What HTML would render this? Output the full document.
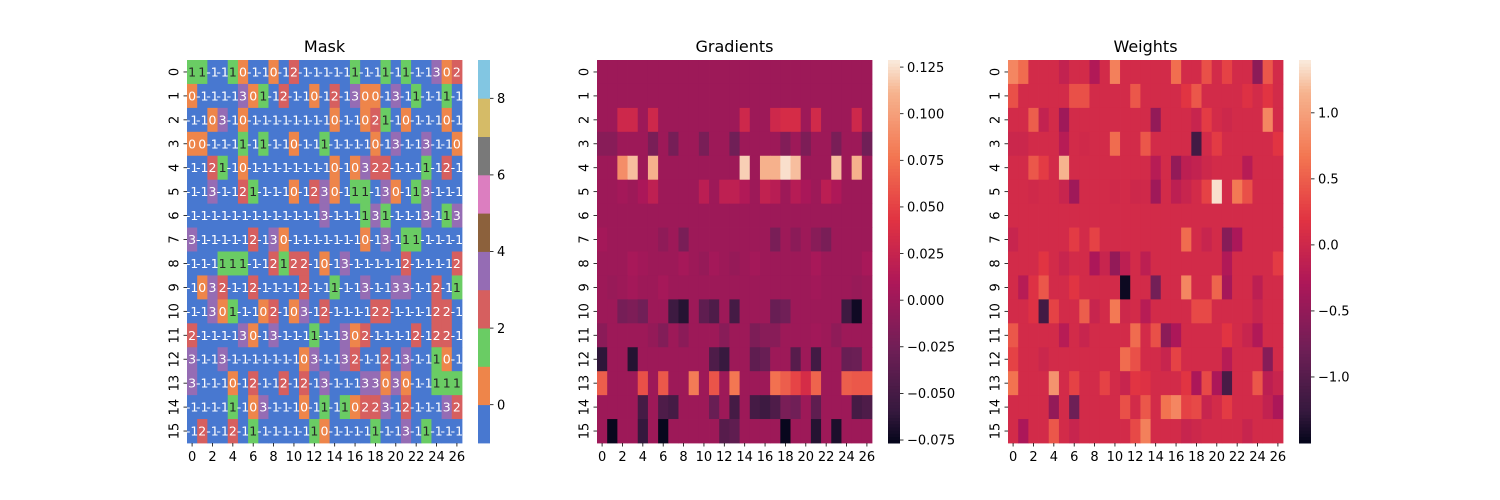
<!DOCTYPE html>
<html><head><meta charset="utf-8"><style>
html,body{margin:0;padding:0;background:#fff;}
svg{display:block;font-family:"DejaVu Sans","Liberation Sans",sans-serif;}
</style></head><body>
<svg id="chart" width="1500" height="500" viewBox="0 0 1500 500" xmlns="http://www.w3.org/2000/svg"></svg>
<script>
const maskValues = [
[1,1,-1,-1,1,0,-1,-1,0,-1,2,-1,-1,-1,-1,-1,1,-1,-1,1,-1,1,-1,-1,3,0,2],
[0,-1,-1,-1,-1,3,0,1,-1,2,-1,-1,0,-1,2,-1,3,0,0,-1,3,-1,1,-1,-1,1,-1],
[-1,-1,0,3,-1,0,-1,-1,-1,-1,-1,-1,-1,-1,0,-1,-1,0,2,1,-1,0,-1,-1,-1,0,-1],
[0,0,-1,-1,-1,1,-1,1,-1,-1,0,-1,-1,1,-1,-1,-1,-1,0,-1,3,-1,-1,3,-1,-1,0],
[-1,-1,2,1,-1,0,-1,-1,-1,-1,-1,-1,-1,-1,0,-1,0,3,2,2,-1,-1,-1,1,-1,2,-1],
[-1,-1,3,-1,-1,2,1,-1,-1,-1,0,-1,2,3,0,-1,1,1,-1,3,0,-1,1,3,-1,-1,-1],
[-1,-1,-1,-1,-1,-1,-1,-1,-1,-1,-1,-1,-1,3,-1,-1,-1,1,3,1,-1,-1,-1,3,-1,1,3],
[3,-1,-1,-1,-1,-1,2,-1,3,0,-1,-1,-1,-1,-1,-1,-1,0,-1,3,-1,1,1,-1,-1,-1,-1],
[-1,-1,-1,1,1,1,-1,-1,2,1,2,2,-1,0,-1,3,-1,-1,-1,-1,-1,2,-1,-1,-1,-1,2],
[-1,0,3,2,-1,-1,2,-1,-1,-1,-1,2,-1,-1,1,-1,-1,3,-1,-1,3,3,-1,-1,2,-1,1],
[-1,-1,3,0,1,-1,-1,0,2,-1,0,3,-1,2,-1,-1,-1,-1,2,2,-1,-1,-1,-1,2,2,-1],
[2,-1,-1,-1,-1,3,0,-1,3,-1,-1,-1,1,-1,-1,3,0,2,-1,-1,-1,-1,2,-1,2,2,-1],
[3,-1,-1,3,-1,-1,-1,-1,-1,-1,-1,0,3,-1,-1,3,2,-1,-1,2,-1,3,-1,-1,1,0,-1],
[3,-1,-1,-1,0,-1,2,-1,-1,2,-1,2,-1,3,-1,-1,-1,3,3,0,3,0,-1,-1,1,1,1],
[-1,-1,-1,-1,1,-1,0,3,-1,-1,-1,0,-1,1,-1,1,0,2,2,3,-1,2,-1,-1,-1,3,2],
[-1,2,-1,-1,2,-1,1,-1,-1,-1,-1,-1,1,0,-1,-1,-1,-1,1,-1,-1,3,-1,1,-1,-1,-1]
];
const gradValues = [
[0,0,0,0,0,0,0,0,0,0,0,0,0,0,0,0,0,0,0,0,0,0,0,0,0,0,0],
[0,0,0,0,0,0,0,0,0,0,0,0,0,0,0,0,0,0,0,0,0,0,0,0,0,0,0],
[0,0,.03,.03,0,.03,0,0,0,0,0,0,0,0,.03,0,0,.03,.035,.035,0,.032,0,0,0,.03,0],
[-.012,-.012,0,0,0,-.02,0,-.022,0,0,-.02,0,0,-.025,0,0,0,0,-.015,0,-.018,0,0,-.02,0,0,-.025],
[0,0,.09,.115,0,.11,0,0,0,0,0,0,0,0,.12,0,.11,.11,.125,.115,0,0,0,.115,0,.11,0],
[0,0,.004,0,.008,.02,0,0,0,0,.018,0,.02,.02,.012,0,.022,.016,0,.015,.007,0,.018,.01,0,0,0],
[0,0,0,0,0,0,0,0,0,0,0,0,0,0,0,0,0,0,0,0,0,0,0,0,0,0,0],
[.004,0,0,0,0,0,-.008,0,-.02,0,0,0,0,0,0,0,0,-.02,0,-.01,0,-.012,-.02,0,0,0,0],
[0,0,0,.006,.003,0,0,0,.005,0,-.004,.004,0,-.004,0,.004,0,0,0,0,0,.006,0,0,0,0,.006],
[0,-.003,0,.004,0,0,.005,0,0,0,0,0,0,0,0,0,0,0,0,0,0,.003,0,0,0,-.003,0],
[0,0,-.022,-.018,-.025,0,0,-.055,-.065,0,-.035,-.045,0,-.05,0,0,0,-.03,-.025,0,0,0,0,0,-.055,-.072,0],
[-.01,0,0,0,0,-.005,-.015,0,-.01,0,0,0,-.012,0,0,-.018,-.012,-.012,0,0,0,.003,0,-.008,0,0,0],
[-.062,0,0,-.065,0,0,0,0,0,0,0,-.045,-.058,0,0,-.035,-.03,0,0,-.04,0,-.052,0,0,-.03,-.028,0],
[.065,0,0,0,.058,0,.062,0,0,.08,0,.06,0,.078,0,0,0,.075,.065,.052,.035,.068,0,0,.065,.062,.062],
[0,0,0,0,-.05,0,-.045,-.05,0,0,0,-.03,0,-.05,0,-.05,-.055,-.045,-.02,-.025,0,-.035,0,0,0,-.05,-.045],
[0,-.075,0,0,-.06,0,-.075,0,0,0,0,0,-.04,-.035,0,0,0,0,-.075,0,0,-.065,0,-.068,0,0,0]
];
const weightValues = [
[.8,.6,.05,.05,.05,-.1,.05,.05,-.25,.05,.75,.05,.05,.05,.05,.05,.62,.05,.05,.4,.05,.3,.05,.05,-.55,.45,.05],
[.4,.05,.05,.05,.05,.05,.4,.4,.05,.05,.05,.05,.45,.05,.05,.05,.05,.2,.45,.05,.05,.05,.05,.15,.05,.2,.05],
[.05,.05,.5,-.1,.05,-.4,.05,.05,.05,.05,.05,.05,.05,.05,-.5,.05,.05,.05,-.05,.25,.05,0,.05,.05,.05,.8,.05],
[-.02,-.02,.05,.05,.05,-.2,.05,.02,.05,.05,.6,.05,.05,.45,.05,.05,.05,.05,-1.15,.05,.25,.05,.05,.05,.05,.05,.2],
[.05,.05,.45,.25,.05,1.15,.05,.05,.05,.05,.05,.05,.05,.05,-.2,.05,-.5,-.15,-.1,0,.05,.05,.05,-.2,.05,.05,.05],
[.05,.05,.02,.05,.05,-.05,-.4,.05,.05,.05,.02,.05,0,.02,-.4,.05,-.15,-.05,.05,.3,1.35,.05,.7,.4,.05,.05,.05],
[.05,.05,.05,.05,.05,.05,.05,.05,.05,.05,.05,.05,.05,.05,.05,.05,.05,.05,.05,.05,.05,.05,.05,.05,.05,.05,.05],
[-.05,.05,.05,.05,.05,.05,.25,.05,.3,.05,.05,.05,.05,.05,.05,.05,.05,.6,.05,-.05,.05,-.6,-.3,.05,.05,.05,.05],
[.05,.05,.05,.2,.05,-.05,.05,.05,-.3,-.05,-.5,-.15,.05,-.15,.05,.05,.05,.05,.05,.05,.05,-.25,.05,.05,.05,.05,.25],
[.05,-.2,.15,.45,.05,.05,.2,.05,.05,.05,.05,-1.45,.05,.05,-.75,.05,.05,.8,.05,.05,.55,-.35,.05,.05,-.15,.05,.05],
[.05,.05,.15,-1.15,.3,.05,.05,.5,-.05,.05,.7,0,.05,-.2,.05,.05,.05,.05,.35,.35,.05,.05,.05,.05,-.05,.05,.05],
[.45,.05,.05,.05,.05,-.2,.05,-.05,.05,.05,.05,.05,.6,.05,.4,-.55,-.3,.05,.05,.05,.05,.2,.05,-.05,-.25,.05,.05],
[.3,.05,.05,-.02,.05,.05,.05,.05,.05,.05,.05,.6,.4,.05,.05,-.05,.3,.05,.05,.05,.05,-.2,.05,.05,.05,-.6,.05],
[.65,.05,.05,.05,.9,.05,.3,.05,.05,.3,.05,-.05,.2,.15,.05,.05,.05,.2,-.3,.35,-.3,-1.1,.05,.05,.45,-.15,-.05],
[.05,.05,.05,.05,-.5,.05,-.8,.05,.05,.05,.05,.4,.05,.45,.05,.65,.8,.3,.35,-.05,.05,.25,.05,.05,.05,-.1,-.3],
[.05,-.3,.05,.05,.45,.05,-.05,.05,.05,.05,.05,.05,.35,.75,.05,.05,.05,-.05,0,.05,.05,.05,.05,-.05,.05,.05,.05]
];
const xTickLabels = ["0","2","4","6","8","10","12","14","16","18","20","22","24","26"];
const yTickLabels = ["0","1","2","3","4","5","6","7","8","9","10","11","12","13","14","15"];
const maskTicks = [0,2,4,6,8];
const gradTicks = [0.125,0.1,0.075,0.05,0.025,0,-0.025,-0.05,-0.075];
const gradTickLabels = ["0.125","0.100","0.075","0.050","0.025","0.000","\u22120.025","\u22120.050","\u22120.075"];
const weightTicks = [1,0.5,0,-0.5,-1];
const weightTickLabels = ["1.0","0.5","0.0","\u22120.5","\u22121.0"];

const NS="http://www.w3.org/2000/svg";
const svg=document.getElementById('chart');
function mk(tag,attrs,parent){const e=document.createElementNS(NS,tag);for(const k in attrs)e.setAttribute(k,attrs[k]);(parent||svg).appendChild(e);return e;}
const muted=["#4878d0","#ee854a","#6acc64","#d65f5f","#956cb4","#8c613c","#dc7ec0","#797979","#d5bb67","#82c6e2"];
const rocketStops=[[0,[3,5,26]],[0.083,[53,25,62]],[0.25,[112,31,87]],[0.417,[173,23,89]],[0.583,[225,51,66]],[0.75,[243,118,81]],[0.917,[246,180,143]],[1,[250,235,221]]];
function rocket(t){t=Math.max(0,Math.min(1,t));for(let i=1;i<rocketStops.length;i++){if(t<=rocketStops[i][0]){const a=rocketStops[i-1],b=rocketStops[i];const f=(t-a[0])/(b[0]-a[0]);const c=a[1].map((v,j)=>Math.round(v+(b[1][j]-v)*f));return `rgb(${c[0]},${c[1]},${c[2]})`;}}return 'rgb(250,235,221)';}

const TOP=60,BOT=443,W=275,NR=16,NC=27;
const cw=W/NC,ch=(BOT-TOP)/NR;

function drawPanel(opt){
  const g=mk('g',{});
  
  
  const L=opt.left;
  const xs=c=>L+c*cw, ys=r=>TOP+r*ch;
  const vals=opt.values;
  for(let r=0;r<NR;r++)for(let c=0;c<NC;c++){
    const v=vals[r][c];
    const rc=mk('rect',{x:xs(c).toFixed(2),y:ys(r).toFixed(2),width:(cw+0.4).toFixed(2),height:(ch+0.4).toFixed(2),fill:opt.color(v)},g);
    
    
  }
  if(opt.annot){
    for(let r=0;r<NR;r++)for(let c=0;c<NC;c++){
      const v=vals[r][c];
      const t=mk('text',{x:(xs(c)+cw/2).toFixed(2),y:(ys(r)+ch/2+4.5).toFixed(2),'text-anchor':'middle','font-size':'12.5',fill:(v===1?'#262626':'#ffffff')},g);
      t.textContent=String(v);
      
      
    }
  }
  // title
  const ti=mk('text',{x:L+W/2,y:52,'text-anchor':'middle','font-size':'16',fill:'#000'},g);
  ti.textContent=opt.title;
  
  
  // y ticks
  for(let r=0;r<NR;r++){
    const y=ys(r)+ch/2;
    const tk=mk('line',{x1:L-3.5,x2:L,y1:y,y2:y,stroke:'#000','stroke-width':0.8},g);
    
    
    const tl=mk('text',{x:0,y:0,'text-anchor':'middle','font-size':'13',transform:`translate(${L-8.5},${y}) rotate(-90)`,fill:'#000'},g);
    tl.textContent=yTickLabels[r];
    
    
  }
  // x ticks
  for(let i=0;i<xTickLabels.length;i++){
    const c=Number(xTickLabels[i]);
    const x=xs(c)+cw/2;
    const tk=mk('line',{x1:x,x2:x,y1:BOT,y2:BOT+3.5,stroke:'#000','stroke-width':0.8},g);
    
    
    const tl=mk('text',{x:x,y:BOT+18,'text-anchor':'middle','font-size':'13',fill:'#000'},g);
    tl.textContent=xTickLabels[i];
    
    
  }
  // colorbar
  const cb=mk('g',{},g);
  
  
  const CX=opt.cbx,CW=12;
  const cy=v=>BOT-(v-opt.vmin)/(opt.vmax-opt.vmin)*(BOT-TOP);
  if(opt.discrete){
    for(let k=0;k<10;k++){
      const v0=opt.vmin+k,v1=v0+1;
      const s=mk('rect',{x:CX,y:cy(v1),width:CW,height:cy(v0)-cy(v1)+0.4,fill:muted[k]},cb);
      
      
    }
  } else {
    const N=120;
    for(let k=0;k<N;k++){
      const t=k/N;
      const y0=BOT-(k+1)/N*(BOT-TOP);
      const s=mk('rect',{x:CX,y:y0.toFixed(2),width:CW,height:((BOT-TOP)/N+0.5).toFixed(2),fill:rocket(t+0.5/N)},cb);
      
      
    }
  }
  for(let i=0;i<opt.ticks.length;i++){
    const y=cy(opt.ticks[i]);
    const tk=mk('line',{x1:CX+CW,x2:CX+CW+3.5,y1:y,y2:y,stroke:'#000','stroke-width':0.8},cb);
    
    
    const tl=mk('text',{x:CX+CW+7,y:y+4.7,'font-size':'13',fill:'#000'},cb);
    tl.textContent=opt.tickLabels[i];
    
    
  }
}

drawPanel({name:'mask',title:'Mask',left:187,values:maskValues,annot:true,discrete:true,vmin:-1,vmax:9,
  color:v=>muted[Math.max(0,Math.min(9,v+1))],cbx:478,ticks:maskTicks,tickLabels:maskTicks.map(String)});
const gmin=-0.0766,gmax=0.1288;
drawPanel({name:'gradients',title:'Gradients',left:597,values:gradValues,annot:false,vmin:gmin,vmax:gmax,
  color:v=>rocket((v-gmin)/(gmax-gmin)),cbx:888,ticks:gradTicks,tickLabels:gradTickLabels});
const wmin=-1.5,wmax=1.4;
drawPanel({name:'weights',title:'Weights',left:1008,values:weightValues,annot:false,vmin:wmin,vmax:wmax,
  color:v=>rocket((v-wmin)/(wmax-wmin)),cbx:1299,ticks:weightTicks,tickLabels:weightTickLabels});
</script>
</body></html>
